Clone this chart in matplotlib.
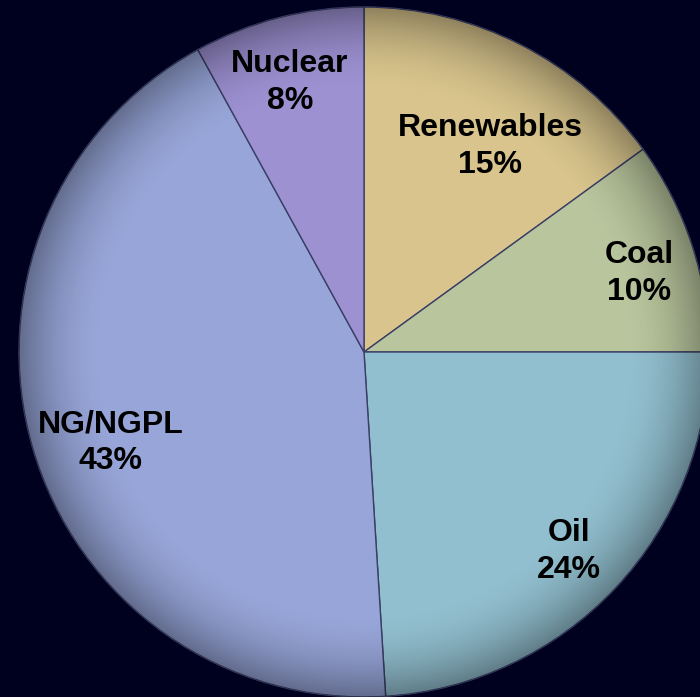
import matplotlib.pyplot as plt
import numpy as np
from matplotlib.patches import Circle

# data
labels = ['Renewables', 'Coal', 'Oil', 'NG/NGPL', 'Nuclear']
shares = [15, 10, 24, 43, 8]
colors = ['#d8c48c', '#b9c59d', '#92bfcf', '#97a5d8', '#9d91d2']

# label placement (radius fraction, angle nudge in degrees)
label_dist = [0.70, 0.83, 0.83, 0.78, 0.81]
label_nudge = [-4.5, -2, -1, 3.5, 1]

bg = '#00001f'

fig = plt.figure(figsize=(7, 6.97), dpi=100, facecolor=bg)
ax = fig.add_axes([0, 0, 1, 1])
ax.set_facecolor(bg)

cx, cy, r = 364, 345, 345

wedges, _ = ax.pie(shares, colors=colors, startangle=90, counterclock=False,
                   center=(cx, cy), radius=r, frame=True,
                   wedgeprops=dict(edgecolor='#3a3f66', linewidth=1.0))
ax.set_xlim(0, 700)
ax.set_ylim(0, 697)
ax.set_aspect('equal')
ax.axis('off')

# soft shading toward the rim, clipped to the pie
yy, xx = np.mgrid[0:697, 0:700]
dist = np.hypot(xx - cx, yy - cy) / r
shade = np.zeros((697, 700, 4))
shade[..., 3] = np.clip((dist - 0.75) / 0.25, 0, 1) ** 2 * 0.35
img = ax.imshow(shade, extent=(0, 700, 0, 697), origin='lower', zorder=3)
img.set_clip_path(Circle((cx, cy), r, transform=ax.transData))

for w, lab, s, d, nd in zip(wedges, labels, shares, label_dist, label_nudge):
    ang = np.deg2rad((w.theta1 + w.theta2) / 2 + nd)
    ax.text(cx + d * r * np.cos(ang), cy + d * r * np.sin(ang),
            f'{lab}\n{s}%', ha='center', va='center', fontsize=23,
            fontweight='bold', family='Liberation Sans', color='black',
            linespacing=1.3, zorder=5)

fig.savefig('out.png', dpi=100, facecolor=bg)
